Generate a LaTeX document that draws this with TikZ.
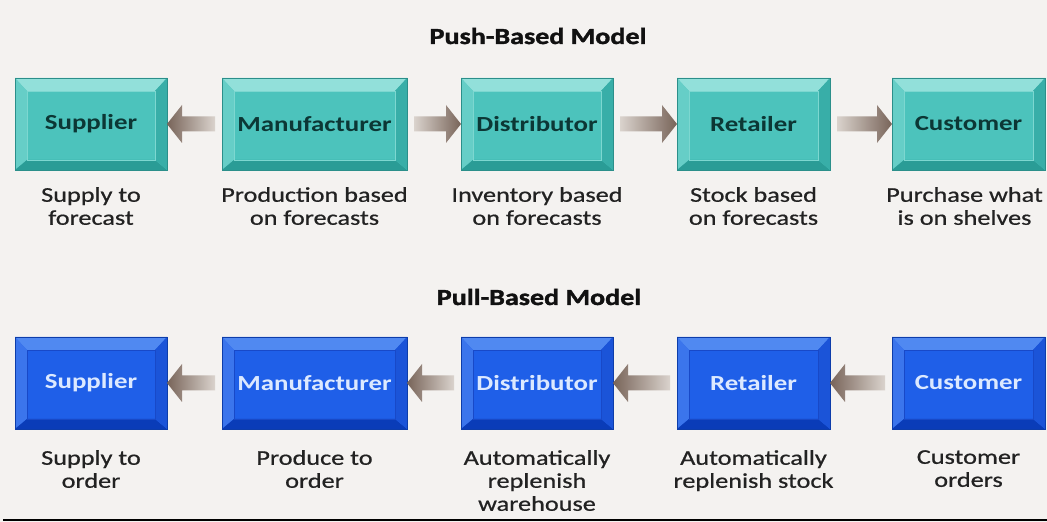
\documentclass[tikz,border=0pt]{standalone}
\usepackage{fontspec}
\setmainfont[FakeStretch=1.25]{Carlito}
\newfontfamily\lblfont[FakeStretch=1.25,FakeBold=0.7]{Carlito}
\newfontfamily\titlefont[FakeStretch=1.22,FakeBold=1.6,BoldFont={Carlito Bold}]{Carlito}
\usetikzlibrary{calc}
\definecolor{bg}{HTML}{F4F2F0}
\definecolor{lbltext}{HTML}{222222}
\definecolor{titletext}{HTML}{111111}
\definecolor{arrD}{HTML}{786459}
\definecolor{arrL}{HTML}{DAD3CD}
% teal (push) scheme
\definecolor{pushface}{HTML}{4CC3BC}
\definecolor{pushtop}{HTML}{92E0DA}
\definecolor{pushleft}{HTML}{66CEC7}
\definecolor{pushright}{HTML}{38AEA8}
\definecolor{pushbottom}{HTML}{2A9C96}
\definecolor{pushedge}{HTML}{2B8F8A}
\definecolor{pushline}{HTML}{7DD7D0}
\definecolor{pushtext}{HTML}{0C3735}
% blue (pull) scheme
\definecolor{pullface}{HTML}{1F5FE8}
\definecolor{pulltop}{HTML}{5089F1}
\definecolor{pullleft}{HTML}{3B75EC}
\definecolor{pullright}{HTML}{1B54D8}
\definecolor{pullbottom}{HTML}{0A3CB8}
\definecolor{pulledge}{HTML}{0D3DAA}
\definecolor{pullline}{HTML}{1849C8}
\definecolor{pulltext}{HTML}{DCE9FF}
\definecolor{baseline}{HTML}{3A3A3A}
\tikzset{
  bevelbox/.style={rectangle, inner sep=0pt, outer sep=0pt, minimum height=92,
    fill=#1face, draw=#1edge, line width=0.8pt, text=#1text,
    font=\fontsize{21.5}{24}\selectfont\bfseries,
    path picture={
      \coordinate (pnw) at (path picture bounding box.north west);
      \coordinate (pne) at (path picture bounding box.north east);
      \coordinate (psw) at (path picture bounding box.south west);
      \coordinate (pse) at (path picture bounding box.south east);
      \fill[#1top] (pnw) -- (pne) -- ($(pne)+(-12,-13)$) -- ($(pnw)+(12,-13)$) -- cycle;
      \fill[#1left] (pnw) -- ($(pnw)+(12,-13)$) -- ($(psw)+(12,10)$) -- (psw) -- cycle;
      \fill[#1bottom] (psw) -- ($(psw)+(12,10)$) -- ($(pse)+(-12,10)$) -- (pse) -- cycle;
      \fill[#1right] (pse) -- ($(pse)+(-12,10)$) -- ($(pne)+(-12,-13)$) -- (pne) -- cycle;
      \draw[#1line, line width=0.8pt] ($(pnw)+(12,-13)$) rectangle ($(pse)+(-12,10)$);
    }},
  lbl/.style={align=center, inner sep=0pt, text=lbltext, anchor=north,
    font=\lblfont\fontsize{21}{23}\selectfont},
  titlelbl/.style={inner sep=0pt, text=titletext, font=\titlefont\fontsize{23}{26}\selectfont\bfseries},
}
\newcommand\rightflow[2]{%
  \shade[left color=arrL, right color=arrD]
    ($(#1.east)+(7,7.5)$) -- ($(#2.west)+(-15,7.5)$) -- ($(#2.west)+(-15,19)$) --
    (#2.west) -- ($(#2.west)+(-15,-19)$) -- ($(#2.west)+(-15,-7.5)$) --
    ($(#1.east)+(7,-7.5)$) -- cycle;}
\newcommand\leftflow[2]{%
  \shade[left color=arrD, right color=arrL]
    (#2.east) -- ($(#2.east)+(15,19)$) -- ($(#2.east)+(15,7.5)$) --
    ($(#1.west)+(-7,7.5)$) -- ($(#1.west)+(-7,-7.5)$) --
    ($(#2.east)+(15,-7.5)$) -- ($(#2.east)+(15,-19)$) -- cycle;}
\begin{document}
\begin{tikzpicture}[x=1pt,y=1pt]
\fill[bg] (0,0) rectangle (1047,522);
\useasboundingbox (0,0) rectangle (1047,522);

% titles
\node[titlelbl] (t1) at (538,486) {Push-Based Model};
\node[titlelbl] (t2) at (539,225) {Pull-Based Model};

% push row
\node[bevelbox=push, minimum width=152] (s1) at (91,398) {Supplier};
\node[bevelbox=push, minimum width=185] (m1) at (314.5,398) {Manufacturer};
\node[bevelbox=push, minimum width=152] (d1) at (537,398) {Distributor};
\node[bevelbox=push, minimum width=153] (r1) at (753.5,398) {Retailer};
\node[bevelbox=push, minimum width=153] (c1) at (968.5,398) {Customer};

\leftflow{m1}{s1}
\rightflow{m1}{d1}
\rightflow{d1}{r1}
\rightflow{r1}{c1}

\node[lbl] (ls1) at ($(s1.south)+(0,-17)$) {Supply to\\forecast};
\node[lbl] (lm1) at ($(m1.south)+(0,-17)$) {Production based\\on forecasts};
\node[lbl] (ld1) at ($(d1.south)+(0,-17)$) {Inventory based\\on forecasts};
\node[lbl] (lr1) at ($(r1.south)+(0,-17)$) {Stock based\\on forecasts};
\node[lbl] (lc1) at ($(c1.south)+(-4,-17)$) {Purchase what\\is on shelves};

% pull row
\node[bevelbox=pull, minimum width=152] (s2) at (91,139) {Supplier};
\node[bevelbox=pull, minimum width=185] (m2) at (314.5,139) {Manufacturer};
\node[bevelbox=pull, minimum width=152] (d2) at (537,139) {Distributor};
\node[bevelbox=pull, minimum width=153] (r2) at (753.5,139) {Retailer};
\node[bevelbox=pull, minimum width=153] (c2) at (968.5,139) {Customer};

\leftflow{m2}{s2}
\leftflow{d2}{m2}
\leftflow{r2}{d2}
\leftflow{c2}{r2}

\node[lbl] (ls2) at ($(s2.south)+(0,-21)$) {Supply to\\order};
\node[lbl] (lm2) at ($(m2.south)+(0,-21)$) {Produce to\\order};
\node[lbl] (ld2) at ($(d2.south)+(0,-21)$) {Automatically\\replenish\\warehouse};
\node[lbl] (lr2) at ($(r2.south)+(0,-21)$) {Automatically\\replenish stock};
\node[lbl] (lc2) at ($(c2.south)+(0,-21)$) {Customer\\orders};

% bottom rule
\coordinate (bl) at (3,1.5);
\coordinate (br) at (1047,1.5);
\draw[baseline, line width=2pt] (bl) -- (br);
\end{tikzpicture}
\end{document}
